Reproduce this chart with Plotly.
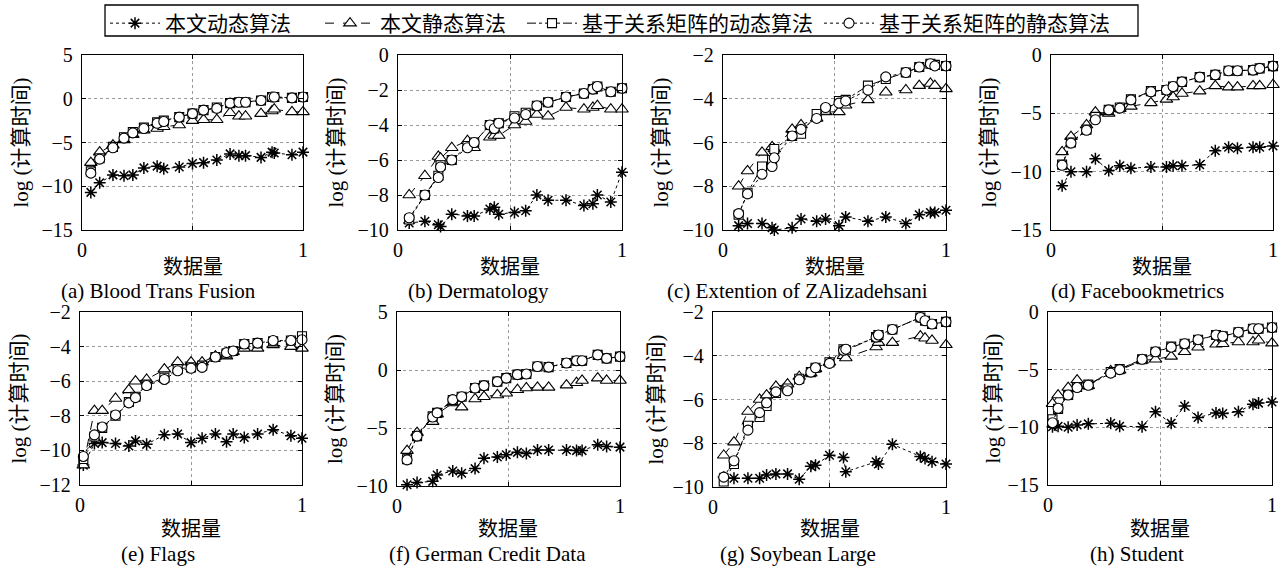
import plotly.graph_objects as go

# ---------------- data ----------------
NAMES = ["本文动态算法", "本文静态算法", "基于关系矩阵的动态算法", "基于关系矩阵的静态算法"]
CAPTIONS = ["(a) Blood Trans Fusion", "(b) Dermatology", "(c) Extention of ZAlizadehsani",
            "(d) Facebookmetrics", "(e) Flags", "(f) German Credit Data",
            "(g) Soybean Large", "(h) Student"]
X_TITLE = "数据量"
Y_TITLE = "log (计算时间)"

A_X = [0.04, 0.08, 0.14, 0.19, 0.23, 0.28, 0.34, 0.37, 0.44, 0.50, 0.55, 0.61, 0.67, 0.71, 0.74, 0.81, 0.86, 0.87, 0.95, 1.0]
A_DYN = [-10.7, -9.6, -8.7, -8.8, -8.7, -7.9, -7.7, -8.0, -7.8, -7.4, -7.3, -7.0, -6.3, -6.5, -6.5, -6.7, -6.1, -6.2, -6.4, -6.1]
A_STA = [-7.3, -6.1, -5.3, -4.7, -4.1, -3.6, -3.4, -3.2, -3.0, -2.5, -2.4, -2.4, -1.6, -2.0, -2.0, -1.7, -1.4, -1.2, -1.5, -1.5]
A_RDYN = [-8.3, -6.8, -5.5, -4.4, -3.8, -3.3, -2.7, -2.5, -2.1, -1.7, -1.3, -1.0, -0.5, -0.4, -0.4, -0.2, 0.2, 0.2, 0.1, 0.2]
A_RSTA = [-8.5, -6.9, -5.6, -4.5, -3.9, -3.4, -2.8, -2.6, -2.1, -1.7, -1.3, -1.1, -0.5, -0.4, -0.4, -0.2, 0.2, 0.2, 0.1, 0.2]

B_X = [0.05, 0.12, 0.18, 0.19, 0.24, 0.31, 0.34, 0.41, 0.43, 0.45, 0.52, 0.57, 0.62, 0.67, 0.75, 0.83, 0.87, 0.89, 0.95, 1.0]
B_DYN = [-9.6, -9.5, -9.7, -9.8, -9.1, -9.2, -9.2, -8.8, -8.7, -9.1, -9.0, -8.9, -8.0, -8.3, -8.3, -8.6, -8.5, -8.0, -8.4, -6.7]
B_STA = [-8.0, -6.9, -5.8, -5.9, -5.3, -4.9, -5.3, -4.7, -4.6, -4.6, -4.0, -3.8, -3.4, -3.5, -3.0, -3.1, -3.0, -2.9, -3.1, -3.1]
B_RDYN = [-9.4, -8.0, -6.9, -6.3, -6.0, -5.2, -5.0, -4.0, -4.2, -3.9, -3.5, -3.3, -2.9, -2.7, -2.4, -2.2, -1.95, -1.8, -2.1, -1.9]
B_RSTA = [-9.3, -8.0, -7.0, -6.4, -6.0, -5.3, -5.0, -4.0, -4.2, -3.9, -3.6, -3.4, -2.9, -2.7, -2.4, -2.2, -1.95, -1.8, -2.1, -1.9]

C_X = [0.07, 0.11, 0.175, 0.22, 0.23, 0.31, 0.35, 0.42, 0.46, 0.52, 0.55, 0.65, 0.73, 0.82, 0.88, 0.93, 0.95, 1.0]
C_DYN = [-9.8, -9.7, -9.7, -9.9, -10.0, -9.9, -9.5, -9.6, -9.5, -9.8, -9.4, -9.6, -9.4, -9.7, -9.3, -9.2, -9.2, -9.1]
C_STA = [-8.0, -7.3, -6.45, -6.2, -6.3, -5.4, -5.2, -4.9, -4.6, -4.6, -4.3, -4.05, -3.7, -3.6, -3.4, -3.3, -3.4, -3.55]
C_RDYN = [-9.3, -8.3, -7.1, -6.8, -6.3, -5.7, -5.6, -4.7, -4.5, -4.1, -4.05, -3.4, -3.1, -2.8, -2.55, -2.4, -2.45, -2.5]
C_RSTA = [-9.25, -8.35, -7.45, -7.1, -6.7, -5.7, -5.4, -4.9, -4.4, -4.2, -4.1, -3.6, -3.0, -2.8, -2.55, -2.4, -2.5, -2.5]

D_X = [0.05, 0.09, 0.16, 0.20, 0.26, 0.31, 0.36, 0.45, 0.52, 0.55, 0.59, 0.67, 0.74, 0.80, 0.84, 0.91, 0.94, 1.0]
D_DYN = [-11.2, -10.0, -10.0, -8.9, -9.9, -9.5, -9.7, -9.6, -9.6, -9.5, -9.5, -9.4, -8.2, -7.9, -8.0, -7.9, -7.9, -7.8]
D_STA = [-8.3, -7.0, -6.0, -4.9, -5.0, -4.6, -4.4, -4.1, -3.8, -3.6, -3.3, -3.1, -2.65, -2.75, -2.75, -2.65, -2.65, -2.55]
D_RDYN = [-9.4, -7.5, -6.4, -5.3, -4.7, -4.5, -3.8, -3.1, -3.0, -2.7, -2.3, -1.9, -1.7, -1.35, -1.35, -1.3, -1.15, -0.95]
D_RSTA = [-9.45, -7.55, -6.45, -5.55, -4.7, -4.55, -3.85, -3.15, -3.0, -2.7, -2.3, -1.9, -1.7, -1.35, -1.35, -1.3, -1.15, -0.95]

E_X = [0.015, 0.065, 0.10, 0.16, 0.22, 0.25, 0.30, 0.38, 0.44, 0.50, 0.55, 0.61, 0.66, 0.69, 0.74, 0.80, 0.87, 0.95, 1.0]
E_DYN = [-10.85, -9.6, -9.55, -9.6, -9.75, -9.45, -9.65, -9.1, -9.05, -9.55, -9.3, -9.05, -9.5, -9.05, -9.25, -9.05, -8.8, -9.15, -9.3]
E_STA = [-10.85, -7.7, -7.7, -7.0, -6.5, -6.0, -5.9, -5.3, -4.9, -4.9, -4.9, -4.55, -4.55, -4.3, -4.1, -4.1, -3.9, -4.0, -4.1]
E_RDYN = [-10.5, -9.2, -8.7, -8.0, -7.2, -6.9, -6.2, -5.8, -5.3, -5.2, -5.1, -4.6, -4.4, -4.25, -3.85, -3.8, -3.7, -3.65, -3.4]
E_RSTA = [-10.35, -9.1, -8.65, -7.95, -7.25, -6.95, -6.25, -5.9, -5.4, -5.25, -5.2, -4.6, -4.35, -4.25, -3.85, -3.8, -3.65, -3.65, -3.6]

F_X = [0.045, 0.09, 0.16, 0.18, 0.25, 0.29, 0.35, 0.39, 0.45, 0.49, 0.54, 0.58, 0.63, 0.68, 0.76, 0.805, 0.83, 0.90, 0.94, 1.0]
F_DYN = [-9.9, -9.7, -9.6, -9.05, -8.7, -8.9, -8.5, -7.6, -7.5, -7.3, -7.1, -7.2, -6.9, -6.9, -6.9, -6.95, -6.95, -6.45, -6.6, -6.65]
F_STA = [-6.95, -5.4, -4.45, -3.8, -2.85, -3.2, -2.5, -2.3, -2.15, -2.0, -1.7, -1.55, -1.5, -1.5, -1.3, -1.1, -0.9, -0.7, -0.9, -0.9]
F_RDYN = [-7.7, -5.7, -4.0, -3.7, -2.6, -2.3, -1.55, -1.35, -1.0, -0.7, -0.4, -0.35, 0.3, 0.25, 0.6, 0.8, 0.8, 1.3, 1.0, 1.15]
F_RSTA = [-7.75, -5.7, -4.05, -3.7, -2.55, -2.3, -1.55, -1.35, -1.0, -0.7, -0.4, -0.35, 0.3, 0.25, 0.6, 0.8, 0.8, 1.3, 1.0, 1.15]

G_X = [0.046, 0.09, 0.15, 0.20, 0.23, 0.27, 0.32, 0.37, 0.42, 0.44, 0.50, 0.56, 0.57, 0.70, 0.71, 0.77, 0.89, 0.91, 0.94, 1.0]
G_DYN = [-9.55, -9.6, -9.6, -9.6, -9.45, -9.4, -9.4, -9.65, -9.05, -9.0, -8.55, -8.65, -9.3, -8.85, -8.95, -8.05, -8.6, -8.7, -8.85, -8.95]
G_STA = [-8.55, -7.95, -6.55, -6.0, -5.8, -5.4, -5.3, -4.95, -4.8, -4.6, -4.3, -4.0, -4.1, -3.6, -3.4, -3.4, -3.1, -3.2, -3.3, -3.5]
G_RDYN = [-9.75, -8.95, -7.2, -6.8, -6.3, -5.7, -5.5, -5.05, -4.75, -4.55, -4.3, -3.7, -3.75, -3.15, -3.05, -2.8, -2.25, -2.4, -2.55, -2.45]
G_RSTA = [-9.55, -8.8, -7.4, -6.6, -6.15, -5.65, -5.6, -5.1, -4.75, -4.55, -4.35, -3.75, -3.7, -3.15, -3.05, -2.8, -2.25, -2.4, -2.55, -2.45]

H_X = [0.02, 0.045, 0.09, 0.13, 0.18, 0.28, 0.32, 0.42, 0.48, 0.55, 0.61, 0.67, 0.75, 0.78, 0.85, 0.915, 0.94, 1.0]
H_DYN = [-9.95, -9.9, -10.0, -9.8, -9.7, -9.65, -9.9, -9.95, -8.65, -9.65, -8.15, -9.15, -8.75, -8.8, -8.65, -8.0, -7.9, -7.8]
H_STA = [-7.95, -7.2, -6.55, -5.9, -6.4, -5.1, -5.05, -4.2, -4.1, -3.85, -3.45, -3.05, -2.8, -2.75, -2.6, -2.6, -2.45, -2.7]
H_RDYN = [-9.3, -8.4, -7.2, -6.5, -6.3, -5.2, -4.95, -4.1, -3.45, -3.0, -2.75, -2.4, -2.0, -2.1, -1.75, -1.45, -1.45, -1.35]
H_RSTA = [-9.6, -8.35, -7.2, -6.55, -6.35, -5.3, -5.0, -4.1, -3.45, -3.05, -2.75, -2.4, -2.0, -2.1, -1.75, -1.45, -1.45, -1.35]

Y_RANGES = [(-15, 5, 5), (-10, 0, 2), (-10, -2, 2), (-15, 0, 5),
            (-12, -2, 2), (-10, 5, 5), (-10, -2, 2), (-15, 0, 5)]

PANELS = [
    (A_X, A_DYN, A_STA, A_RDYN, A_RSTA),
    (B_X, B_DYN, B_STA, B_RDYN, B_RSTA),
    (C_X, C_DYN, C_STA, C_RDYN, C_RSTA),
    (D_X, D_DYN, D_STA, D_RDYN, D_RSTA),
    (E_X, E_DYN, E_STA, E_RDYN, E_RSTA),
    (F_X, F_DYN, F_STA, F_RDYN, F_RSTA),
    (G_X, G_DYN, G_STA, G_RDYN, G_RSTA),
    (H_X, H_DYN, H_STA, H_RDYN, H_RSTA),
]

# ---------------- layout (pixels) ----------------
W, H = 1284, 568
BOXES = [(82, 303, 55, 230), (398, 622, 55, 230), (723, 946, 55, 230), (1051, 1273, 55, 230),
         (80, 302, 312, 485), (397, 620, 312, 486), (713, 946, 312, 487), (1048, 1272, 312, 485)]
YTITLE_X = [20, 335, 660, 988, 18, 335, 655, 992]
CAPTION_X = [158, 478, 797, 1137, 158, 487, 798, 1137]
XTITLE_Y = [266, 266, 266, 266, 527, 527, 527, 527]
CAPTION_Y = [291, 291, 291, 291, 554, 554, 554, 554]

SERIF = "Liberation Serif, Times New Roman, serif"
CJK = "Noto Sans CJK SC"

STYLES = [
    dict(symbol="asterisk-open", size=10, dash="dot", fill="black", lw=1.5),
    dict(symbol="triangle-up", size=11, dash="dash", fill="white", lw=1.1),
    dict(symbol="square", size=9, dash="dashdot", fill="white", lw=1.1),
    dict(symbol="circle", size=10, dash="dot", fill="white", lw=1.1),
]
LEGEND_OF = ["legend", "legend", "legend2", "legend2"]

fig = go.Figure()
layout = dict(width=W, height=H, margin=dict(l=0, r=0, t=0, b=0, autoexpand=False),
              paper_bgcolor="white", plot_bgcolor="white", annotations=[], shapes=[])

for i, (box, panel, yr) in enumerate(zip(BOXES, PANELS, Y_RANGES)):
    k = "" if i == 0 else str(i + 1)
    x0, x1, y0, y1 = box
    xs = panel[0]
    for j, ys in enumerate(panel[1:]):
        st = STYLES[j]
        fig.add_trace(go.Scatter(
            x=xs, y=ys, mode="lines+markers", name=NAMES[j], showlegend=(i == 0),
            legend=LEGEND_OF[j], legendgroup=NAMES[j], xaxis="x" + k, yaxis="y" + k,
            cliponaxis=False,
            line=dict(color="black", width=1, dash=st["dash"]),
            marker=dict(symbol=st["symbol"], size=st["size"], color=st["fill"],
                        line=dict(color="black", width=st["lw"])),
        ))
    common = dict(showline=True, linecolor="black", linewidth=1.3, mirror="ticks",
                  ticks="inside", ticklen=4, tickcolor="black", automargin=False,
                  showgrid=True, gridcolor="#9a9a9a", griddash="dot", gridwidth=1,
                  zeroline=False, tickfont=dict(family=SERIF, size=20, color="black"))
    layout["xaxis" + k] = dict(common, domain=[x0 / W, x1 / W], anchor="y" + k,
                               range=[0, 1], tickvals=[0, 0.5, 1], ticktext=["0", "", "1"],
                               ticklabelstandoff=2)
    ylo, yhi, dt = yr
    layout["yaxis" + k] = dict(common, domain=[1 - y1 / H, 1 - y0 / H], anchor="x" + k,
                               range=[ylo, yhi], tick0=ylo, dtick=dt, ticklabelstandoff=4)
    layout["annotations"] += [
        dict(text=Y_TITLE, x=YTITLE_X[i] / W, y=1 - (y0 + y1) / 2 / H, xref="paper", yref="paper",
             textangle=-90, showarrow=False, xanchor="center", yanchor="middle",
             font=dict(family=SERIF + ", " + CJK, size=21, color="black")),
        dict(text=X_TITLE, x=(x0 + x1) / 2 / W, y=1 - XTITLE_Y[i] / H, xref="paper", yref="paper",
             showarrow=False, xanchor="center", yanchor="middle",
             font=dict(family=CJK, size=20, color="black")),
        dict(text=CAPTIONS[i], x=CAPTION_X[i] / W, y=1 - CAPTION_Y[i] / H, xref="paper", yref="paper",
             showarrow=False, xanchor="center", yanchor="middle",
             font=dict(family=SERIF, size=21, color="black")),
    ]

leg_common = dict(orientation="h", xanchor="left", y=1 - 3 / H, yanchor="top",
                  borderwidth=0, bgcolor="rgba(0,0,0,0)", itemwidth=50,
                  entrywidthmode="pixels",
                  font=dict(family=CJK, size=21, color="black"), traceorder="normal")
layout["legend"] = dict(leg_common, x=105 / W, entrywidth=150)
layout["legend2"] = dict(leg_common, x=522 / W, entrywidth=232)
layout["shapes"].append(dict(type="rect", xref="paper", yref="paper",
                             x0=105 / W, x1=1138 / W, y0=1 - 36 / H, y1=1 - 5 / H,
                             line=dict(color="black", width=1.3), fillcolor="rgba(0,0,0,0)"))
fig.update_layout(**layout)
fig.write_html("out.html", config={"displayModeBar": False},
               post_script="document.body.style.margin='0';document.body.style.padding='0';")
